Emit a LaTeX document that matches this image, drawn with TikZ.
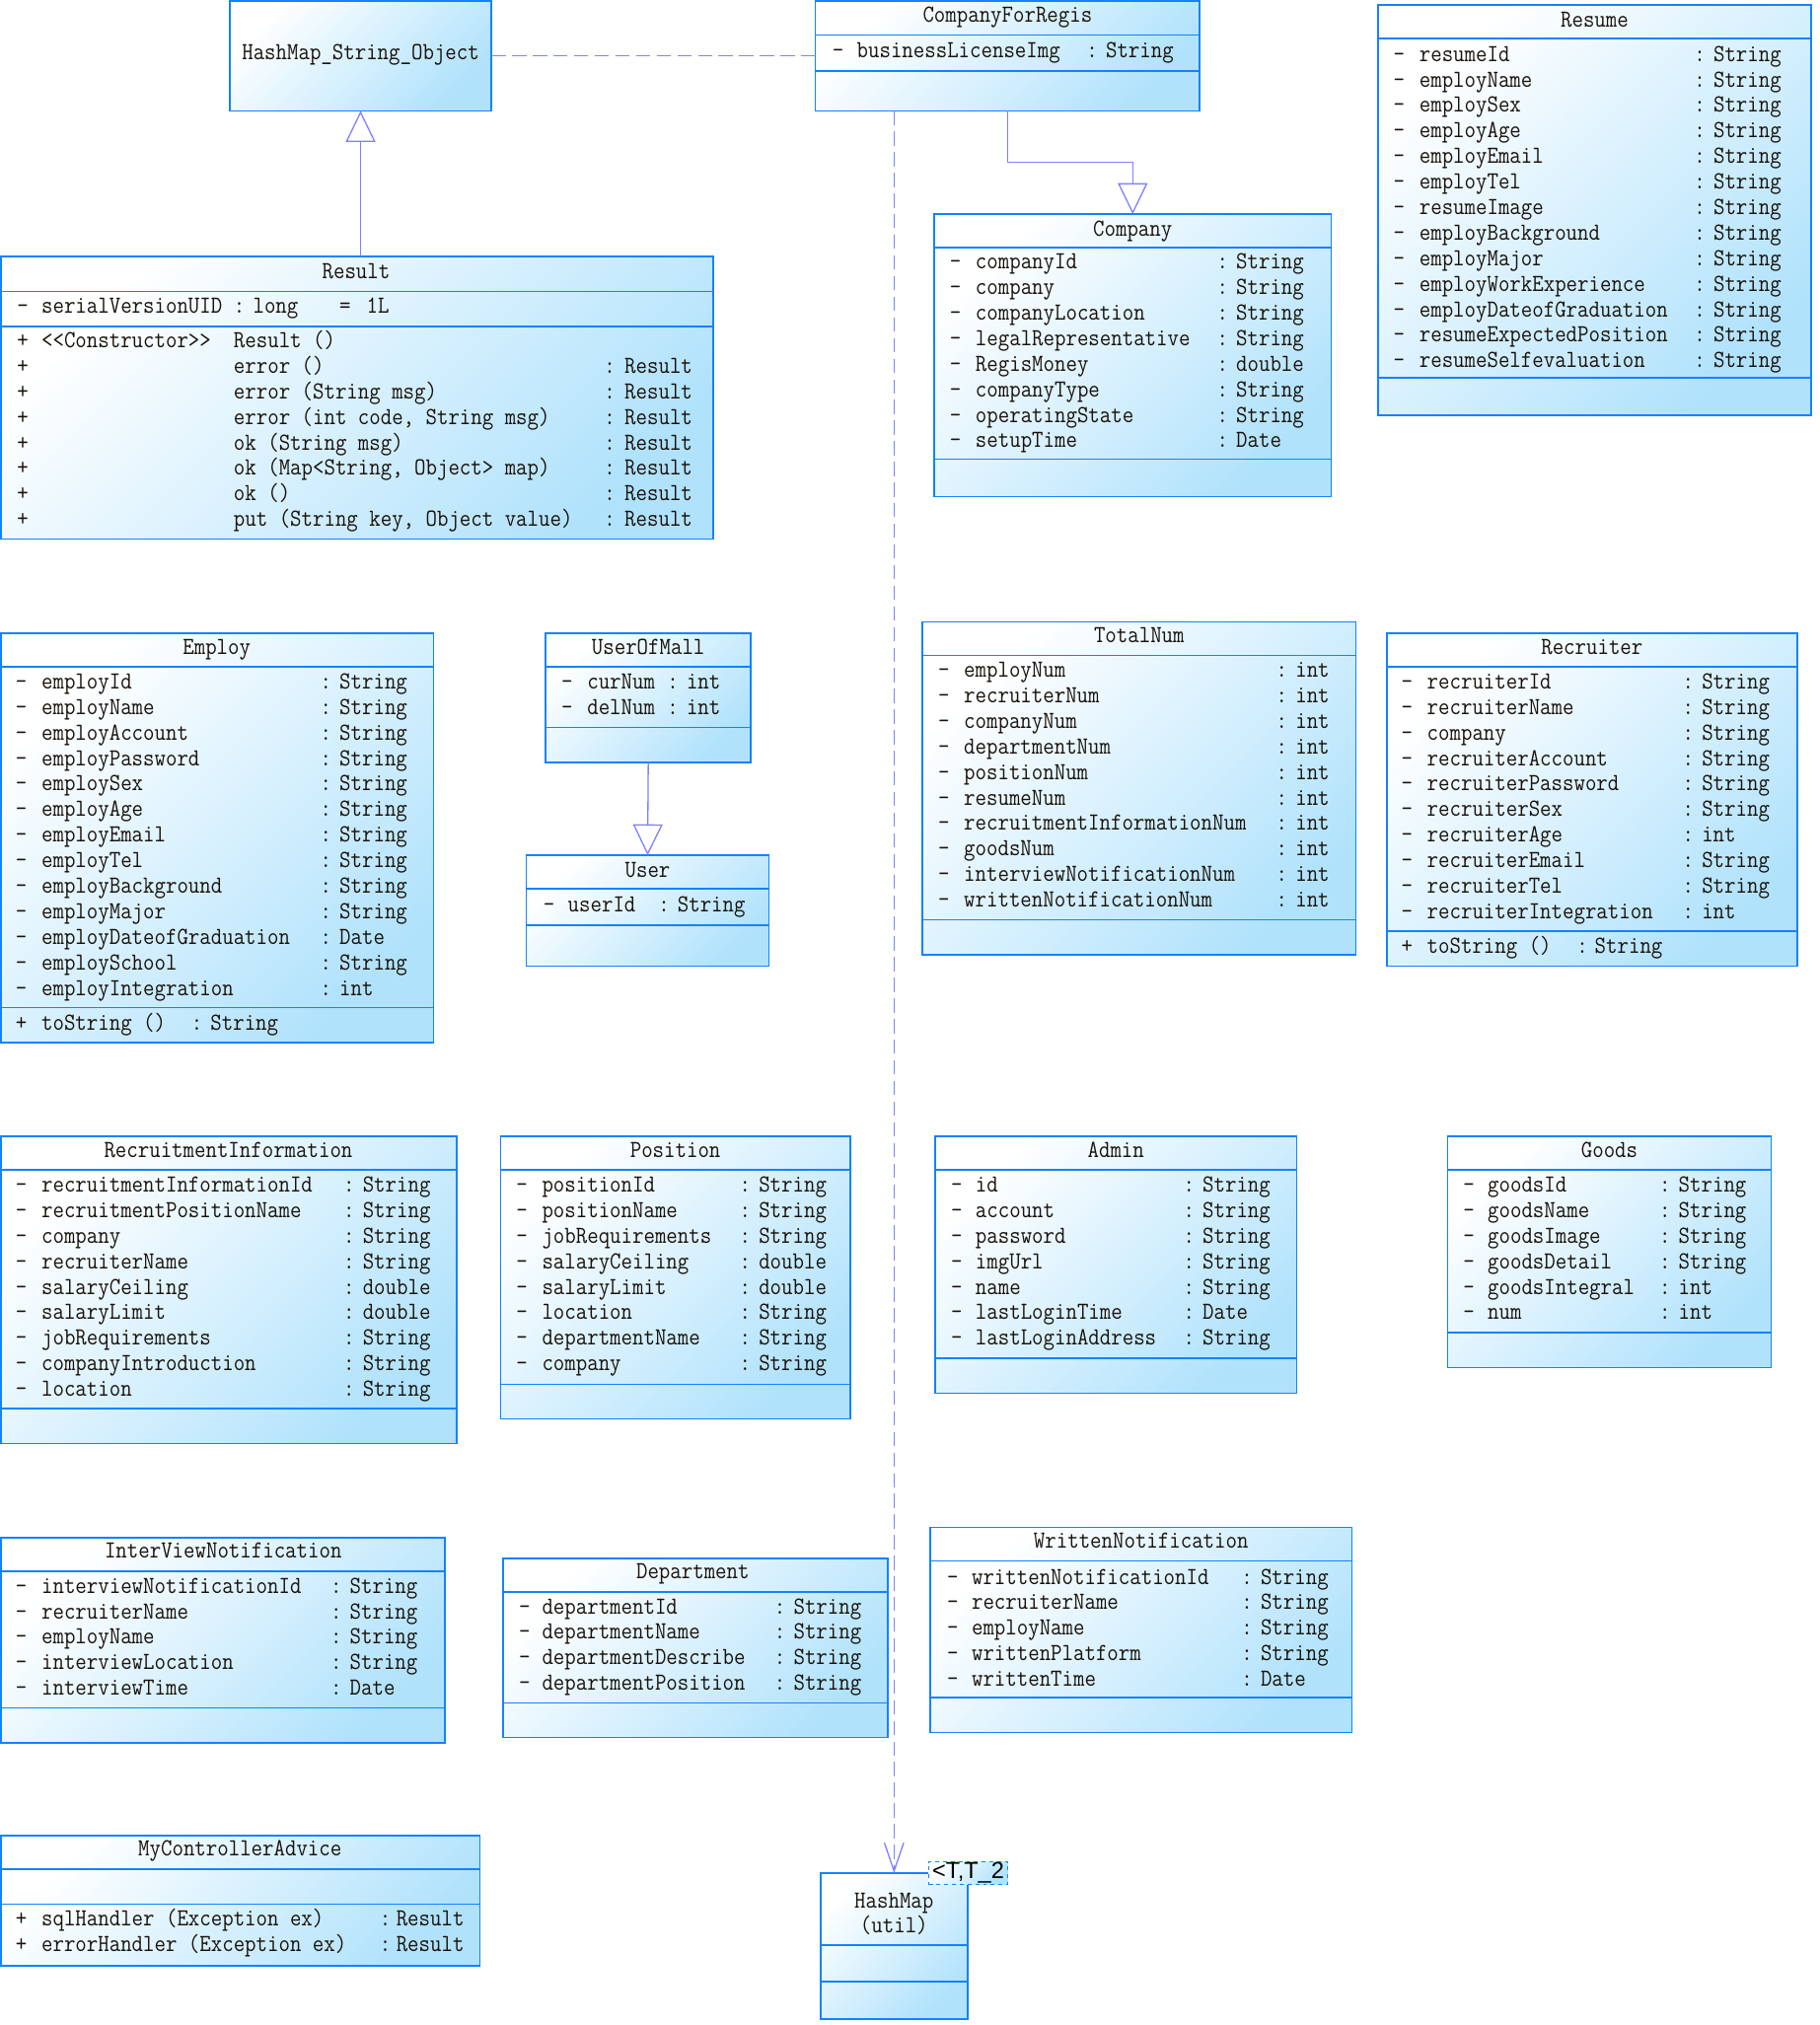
\documentclass[tikz,border=0pt]{standalone}
\usepackage{fontspec}
\usepackage{graphicx}
\newfontfamily\lsans{Liberation Sans}
\usetikzlibrary{arrows.meta}
\definecolor{bord}{RGB}{20,130,255}
\definecolor{fillb}{RGB}{176,226,252}
\definecolor{conn}{RGB}{128,128,255}
\definecolor{ink}{RGB}{25,18,10}
\newcounter{tn}
\newcommand\tx[3]{\stepcounter{tn}\node[txt] (t\arabic{tn}) at ({#1},{#2}) {\scalebox{1}[1.12]{#3}};}
\newcommand\tc[3]{\stepcounter{tn}\node[ttl] (t\arabic{tn}) at ({#1},{#2}) {\scalebox{1}[1.12]{#3}};}
\newcommand\rw[3]{\tx{\xD}{#1}{-}\tx{\xN}{#1}{#2}\tx{\xC}{#1}{:}\tx{\xC+15}{#1}{#3}}
\newcommand\cbox[5]{\node[cls, minimum width={(#4)-(#2)}, minimum height={(#5)-(#3)}] (#1) at (#2,#3) {};}
\newcommand\hl[2]{\draw[cl] (#1.west |- 0,#2) -- (#1.east |- 0,#2);}
\tikzset{
  cls/.style={rectangle, draw=bord, line width=1.2pt, top color=white, bottom color=fillb,
    shading angle=45, inner sep=0pt, outer sep=0pt, anchor=north west},
  cl/.style={draw=bord, line width=1.2pt},
  txt/.style={anchor=west, inner sep=0pt, text height=11pt, text depth=3pt,
    font=\fontsize{17}{20}\selectfont\ttfamily, text=ink},
  ttl/.style={txt, anchor=center},
  connline/.style={draw=conn, line width=1pt},
  dep/.style={connline, dash pattern=on 11pt off 5pt},
  inh/.style={connline, -{Triangle[open, length=24pt, width=23pt]}},
}
\begin{document}
\begin{tikzpicture}[x=1pt, y=-1pt]
\useasboundingbox (0,0) rectangle (1410,1569.8);

% HashMap_String_Object
\cbox{hmso}{178}{0.8}{381}{86}
\tc{279.5}{42}{HashMap\_String\_Object}

% CompanyForRegis
\cbox{cfr}{632}{0.8}{930}{86}
\hl{cfr}{27}\hl{cfr}{55}
\tc{781}{13}{CompanyForRegis}
\def\xD{645}\def\xN{664}\def\xC{842}
\rw{41}{businessLicenseImg}{String}

% Resume
\cbox{resume}{1068}{4}{1404}{322}
\hl{resume}{30}\hl{resume}{293}
\tc{1236}{17}{Resume}
\def\xD{1080}\def\xN{1100}\def\xC{1313}
\rw{43.5}{resumeId}{String}
\rw{63.3}{employName}{String}
\rw{83.1}{employSex}{String}
\rw{102.9}{employAge}{String}
\rw{122.7}{employEmail}{String}
\rw{142.5}{employTel}{String}
\rw{162.3}{resumeImage}{String}
\rw{182.1}{employBackground}{String}
\rw{201.9}{employMajor}{String}
\rw{221.7}{employWorkExperience}{String}
\rw{241.5}{employDateofGraduation}{String}
\rw{261.3}{resumeExpectedPosition}{String}
\rw{281.1}{resumeSelfevaluation}{String}

% Result
\cbox{result}{0.8}{199}{553}{418}
\hl{result}{226}\hl{result}{253}
\tc{276}{212}{Result}
\tx{13}{239}{-}\tx{32}{239}{serialVersionUID}\tx{181}{239}{:}\tx{196}{239}{long}
\tx{263}{239}{=}\tx{284}{239}{1L}
\tx{13}{265.5}{+}\tx{32}{265.5}{<<Constructor>>}\tx{181}{265.5}{Result ()}
\tx{13}{285.3}{+}\tx{181}{285.3}{error ()}\tx{468}{285.3}{:}\tx{484}{285.3}{Result}
\tx{13}{305.1}{+}\tx{181}{305.1}{error (String msg)}\tx{468}{305.1}{:}\tx{484}{305.1}{Result}
\tx{13}{324.9}{+}\tx{181}{324.9}{error (int code, String msg)}\tx{468}{324.9}{:}\tx{484}{324.9}{Result}
\tx{13}{344.7}{+}\tx{181}{344.7}{ok (String msg)}\tx{468}{344.7}{:}\tx{484}{344.7}{Result}
\tx{13}{364.5}{+}\tx{181}{364.5}{ok (Map<String, Object> map)}\tx{468}{364.5}{:}\tx{484}{364.5}{Result}
\tx{13}{384.3}{+}\tx{181}{384.3}{ok ()}\tx{468}{384.3}{:}\tx{484}{384.3}{Result}
\tx{13}{404.1}{+}\tx{181}{404.1}{put (String key, Object value)}\tx{468}{404.1}{:}\tx{484}{404.1}{Result}

% Company
\cbox{company}{724}{166}{1032}{385}
\hl{company}{192}\hl{company}{356}
\tc{878}{179}{Company}
\def\xD{736}\def\xN{756}\def\xC{943}
\rw{204.5}{companyId}{String}
\rw{224.3}{company}{String}
\rw{244.1}{companyLocation}{String}
\rw{263.9}{legalRepresentative}{String}
\rw{283.7}{RegisMoney}{double}
\rw{303.5}{companyType}{String}
\rw{323.3}{operatingState}{String}
\rw{343.1}{setupTime}{Date}

% Employ
\cbox{employ}{0.8}{491}{336}{808}
\hl{employ}{517}\hl{employ}{781}
\tc{168}{503}{Employ}
\def\xD{12}\def\xN{32}\def\xC{248}
\rw{530}{employId}{String}
\rw{549.8}{employName}{String}
\rw{569.6}{employAccount}{String}
\rw{589.4}{employPassword}{String}
\rw{609.2}{employSex}{String}
\rw{629}{employAge}{String}
\rw{648.8}{employEmail}{String}
\rw{668.6}{employTel}{String}
\rw{688.4}{employBackground}{String}
\rw{708.2}{employMajor}{String}
\rw{728}{employDateofGraduation}{Date}
\rw{747.8}{employSchool}{String}
\rw{767.6}{employIntegration}{int}
\tx{12}{795}{+}\tx{32}{795}{toString ()}\tx{148}{795}{:}\tx{163}{795}{String}

% UserOfMall
\cbox{uom}{423}{491}{582}{591}
\hl{uom}{517}\hl{uom}{564}
\tc{502.5}{503}{UserOfMall}
\def\xD{435}\def\xN{455}\def\xC{517}
\rw{530}{curNum}{int}
\rw{549.8}{delNum}{int}

% User
\cbox{user}{408}{663}{596}{749}
\hl{user}{689}\hl{user}{717}
\tc{502}{676}{User}
\def\xD{421}\def\xN{440}\def\xC{510}
\rw{703}{userId}{String}

% TotalNum
\cbox{totalnum}{715}{482}{1051}{740}
\hl{totalnum}{508}\hl{totalnum}{713}
\tc{883}{494}{TotalNum}
\def\xD{727}\def\xN{747}\def\xC{989}
\rw{521}{employNum}{int}
\rw{540.8}{recruiterNum}{int}
\rw{560.6}{companyNum}{int}
\rw{580.4}{departmentNum}{int}
\rw{600.2}{positionNum}{int}
\rw{620}{resumeNum}{int}
\rw{639.8}{recruitmentInformationNum}{int}
\rw{659.6}{goodsNum}{int}
\rw{679.4}{interviewNotificationNum}{int}
\rw{699.2}{writtenNotificationNum}{int}

% Recruiter
\cbox{recruiter}{1075}{491}{1393}{749}
\hl{recruiter}{517}\hl{recruiter}{722}
\tc{1234}{503}{Recruiter}
\def\xD{1086}\def\xN{1106}\def\xC{1304}
\rw{530}{recruiterId}{String}
\rw{549.8}{recruiterName}{String}
\rw{569.6}{company}{String}
\rw{589.4}{recruiterAccount}{String}
\rw{609.2}{recruiterPassword}{String}
\rw{629}{recruiterSex}{String}
\rw{648.8}{recruiterAge}{int}
\rw{668.6}{recruiterEmail}{String}
\rw{688.4}{recruiterTel}{String}
\rw{708.2}{recruiterIntegration}{int}
\tx{1086}{735}{+}\tx{1106}{735}{toString ()}\tx{1222}{735}{:}\tx{1236}{735}{String}

% RecruitmentInformation
\cbox{recinfo}{0.8}{881}{354}{1119}
\hl{recinfo}{907}\hl{recinfo}{1092}
\tc{177}{893}{RecruitmentInformation}
\def\xD{12}\def\xN{32}\def\xC{266}
\rw{920}{recruitmentInformationId}{String}
\rw{939.8}{recruitmentPositionName}{String}
\rw{959.6}{company}{String}
\rw{979.4}{recruiterName}{String}
\rw{999.2}{salaryCeiling}{double}
\rw{1019}{salaryLimit}{double}
\rw{1038.8}{jobRequirements}{String}
\rw{1058.6}{companyIntroduction}{String}
\rw{1078.4}{location}{String}

% Position
\cbox{position}{388}{881}{659}{1100}
\hl{position}{907}\hl{position}{1073}
\tc{523.5}{893}{Position}
\def\xD{400}\def\xN{420}\def\xC{573}
\rw{920}{positionId}{String}
\rw{939.8}{positionName}{String}
\rw{959.6}{jobRequirements}{String}
\rw{979.4}{salaryCeiling}{double}
\rw{999.2}{salaryLimit}{double}
\rw{1019}{location}{String}
\rw{1038.8}{departmentName}{String}
\rw{1058.6}{company}{String}

% Admin
\cbox{admin}{725}{881}{1005}{1080}
\hl{admin}{907}\hl{admin}{1053}
\tc{865}{893}{Admin}
\def\xD{737}\def\xN{756}\def\xC{917}
\rw{920}{id}{String}
\rw{939.8}{account}{String}
\rw{959.6}{password}{String}
\rw{979.4}{imgUrl}{String}
\rw{999.2}{name}{String}
\rw{1019}{lastLoginTime}{Date}
\rw{1038.8}{lastLoginAddress}{String}

% Goods
\cbox{goods}{1122}{881}{1373}{1060}
\hl{goods}{907}\hl{goods}{1033}
\tc{1247.5}{893}{Goods}
\def\xD{1134}\def\xN{1153}\def\xC{1286}
\rw{920}{goodsId}{String}
\rw{939.8}{goodsName}{String}
\rw{959.6}{goodsImage}{String}
\rw{979.4}{goodsDetail}{String}
\rw{999.2}{goodsIntegral}{int}
\rw{1019}{num}{int}

% InterViewNotification
\cbox{ivn}{0.8}{1192}{345}{1351}
\hl{ivn}{1218}\hl{ivn}{1324}
\tc{173}{1204}{InterViewNotification}
\def\xD{12}\def\xN{32}\def\xC{256}
\rw{1231}{interviewNotificationId}{String}
\rw{1250.8}{recruiterName}{String}
\rw{1270.6}{employName}{String}
\rw{1290.4}{interviewLocation}{String}
\rw{1310.2}{interviewTime}{Date}

% Department
\cbox{department}{390}{1208}{688}{1347}
\hl{department}{1234}\hl{department}{1320}
\tc{537}{1220}{Department}
\def\xD{402}\def\xN{420}\def\xC{600}
\rw{1247}{departmentId}{String}
\rw{1266.8}{departmentName}{String}
\rw{1286.6}{departmentDescribe}{String}
\rw{1306.4}{departmentPosition}{String}

% WrittenNotification
\cbox{wn}{721}{1184}{1048}{1343}
\hl{wn}{1210}\hl{wn}{1316}
\tc{884.5}{1196}{WrittenNotification}
\def\xD{734}\def\xN{753}\def\xC{962}
\rw{1224}{writtenNotificationId}{String}
\rw{1243.8}{recruiterName}{String}
\rw{1263.6}{employName}{String}
\rw{1283.4}{writtenPlatform}{String}
\rw{1303.2}{writtenTime}{Date}

% MyControllerAdvice
\cbox{mca}{0.8}{1423}{372}{1524}
\hl{mca}{1449}\hl{mca}{1476}
\tc{186}{1435}{MyControllerAdvice}
\tx{12}{1489}{+}\tx{32}{1489}{sqlHandler (Exception ex)}\tx{294}{1489}{:}\tx{307}{1489}{Result}
\tx{12}{1509}{+}\tx{32}{1509}{errorHandler (Exception ex)}\tx{294}{1509}{:}\tx{307}{1509}{Result}

% HashMap (util)
\cbox{hmu}{636}{1452}{750}{1565}
\hl{hmu}{1508}\hl{hmu}{1536}
\tc{693}{1475}{HashMap}
\tc{693}{1494}{(util)}
\node[draw=bord, line width=1pt, dashed, top color=white, bottom color=fillb, shading angle=45,
  minimum width=61pt, minimum height=18pt, inner sep=0pt, text=black,
  font=\fontsize{18}{18}\selectfont\lsans] (tparam) at (750.5,1452) {<T,T\_2};

% connectors
\draw[dep] (hmso.east) -- (cfr.west);
\draw[dep, -{Straight Barb[length=22pt, width=15pt]}] (cfr.south -| hmu.north) -- (hmu.north);
\draw[inh] (result.north -| hmso.south) -- (hmso.south);
\draw[inh] (cfr.south) -- ++(0,40) -| (company.north);
\draw[inh] (uom.south) -- (user.north);
\end{tikzpicture}
\end{document}
